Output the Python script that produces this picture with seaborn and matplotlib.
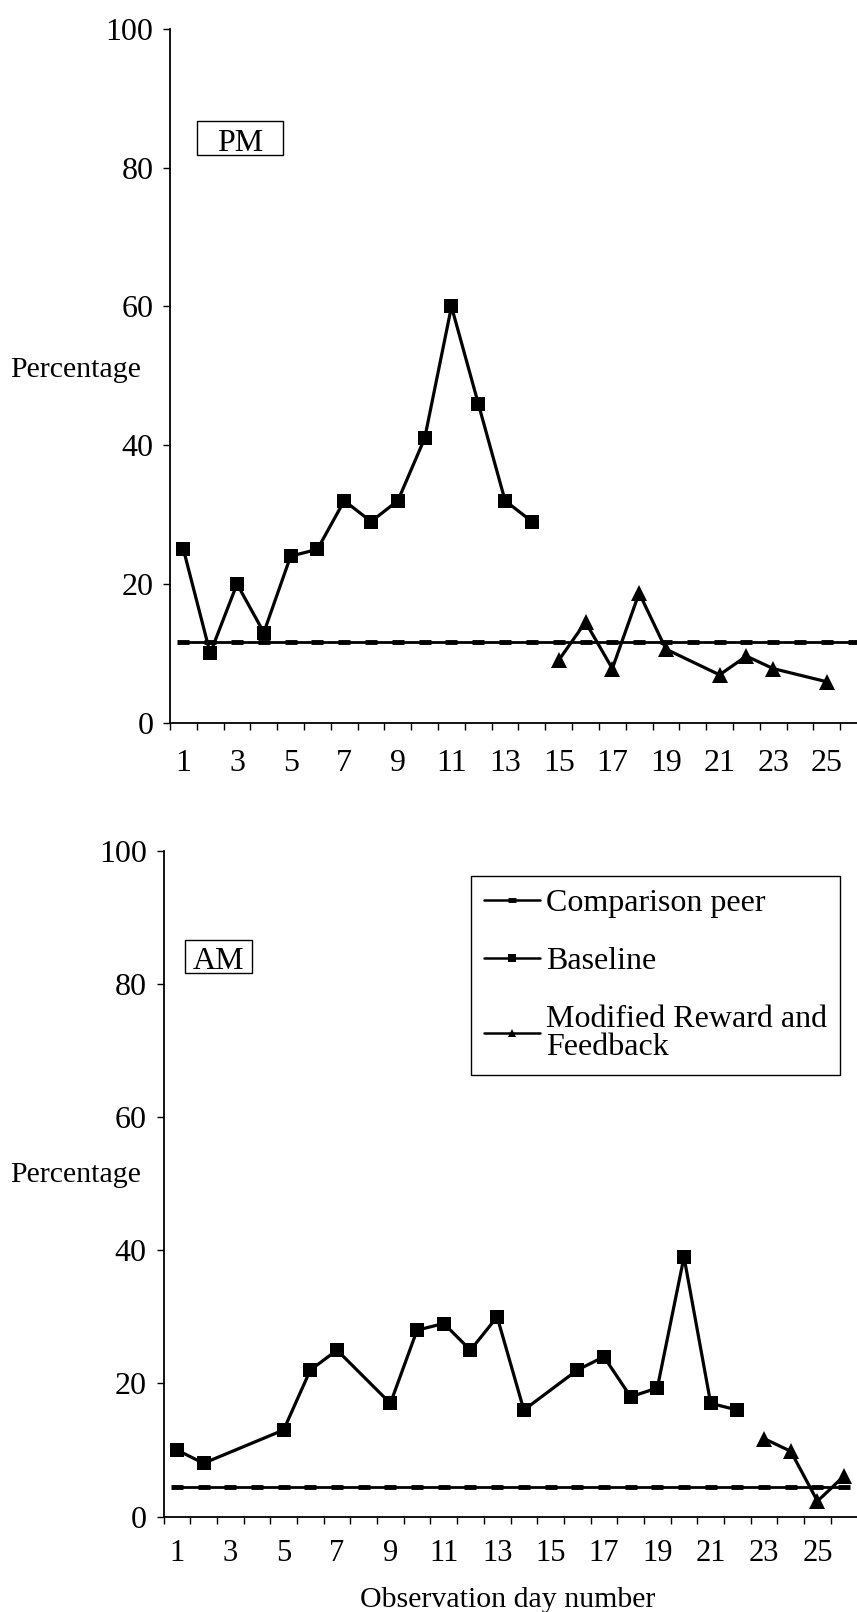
import matplotlib
matplotlib.use("Agg")
import matplotlib.pyplot as plt
from matplotlib.patches import Rectangle
import seaborn as sns
import numpy as np

# ---- data ----
days_all = list(range(1, 27))
tick_days = list(range(1, 26, 2))

# PM panel
pm_base_days = [1, 2, 3, 4, 5, 6, 7, 8, 9, 10, 11, 12, 13, 14]
pm_base_vals = [25, 10, 20, 13, 24, 25, 32, 29, 32, 41, 60, 46, 32, 29]
pm_mod_days = [15, 16, 17, 18, 19, 21, 22, 23, 25]
pm_mod_vals = [9, 14.5, 7.8, 18.7, 10.6, 6.9, 9.6, 7.8, 5.9]
pm_peer = 11.6

# AM panel
am_base_days = [1, 2, 5, 6, 7, 9, 10, 11, 12, 13, 14, 16, 17, 18, 19, 20, 21, 22]
am_base_vals = [10, 8, 13, 22, 25, 17, 28, 29, 25, 30, 16, 22, 24, 18, 19.3, 39, 17, 16]
am_mod_days = [23, 24, 25, 26]
am_mod_vals = [11.7, 9.8, 2.3, 6.1]
am_peer = 4.4

series_names = ["Comparison peer", "Baseline", "Modified Reward and\nFeedback"]

sns.set_theme(style="ticks")
plt.rcParams['font.family'] = ['Liberation Serif', 'DejaVu Serif']
plt.rcParams['text.color'] = 'black'
plt.rcParams['axes.labelcolor'] = 'black'
plt.rcParams['xtick.color'] = 'black'
plt.rcParams['ytick.color'] = 'black'

fig = plt.figure(figsize=(8.57, 16.12), dpi=100)
ax_pm = fig.add_axes([170 / 857, 1 - 722.7 / 1612, 697 / 857, 693.7 / 1612])
ax_am = fig.add_axes([163.5 / 857, 1 - 1516.5 / 1612, 694 / 857, 665.5 / 1612])

FS = 23


def draw_panel(ax, peer, base_d, base_v, mod_d, mod_v, tag, box, label_xy, pad, xfs):
    sns.lineplot(x=days_all, y=[peer] * len(days_all), ax=ax, color='black',
                 linewidth=2.0, linestyle='-', marker='_', markersize=9,
                 markeredgewidth=3.5, markeredgecolor='black',
                 label=series_names[0])
    sns.lineplot(x=base_d, y=base_v, ax=ax, color='black', linewidth=2.3,
                 linestyle='-', marker='s', markersize=10, markeredgewidth=0,
                 label=series_names[1])
    sns.lineplot(x=mod_d, y=mod_v, ax=ax, color='black', linewidth=2.3,
                 linestyle='-', marker='^', markersize=12, markeredgewidth=0,
                 label=series_names[2])

    ax.set_xlim(0.5, 26.5)
    ax.set_ylim(0, 100)
    ax.set_yticks(np.arange(0, 101, 20))
    ax.set_xticks(tick_days)
    ax.set_xticks(np.arange(0.5, 27, 1), minor=True)
    ax.tick_params(axis='x', which='major', length=0, pad=pad, labelsize=xfs)
    ax.tick_params(axis='x', which='minor', length=5, width=1, direction='out')
    ax.tick_params(axis='y', which='major', length=5, width=1, pad=7, labelsize=FS)
    sns.despine(ax=ax)
    for s in ('left', 'bottom'):
        ax.spines[s].set_color('black')
        ax.spines[s].set_linewidth(1.3)

    ax.set_ylabel("Percentage", rotation=0, fontsize=21.5, ha='left', va='center')
    ax.yaxis.set_label_coords(*label_xy)
    ax.set_xlabel("")

    x0, x1, y0, y1 = box
    ax.add_patch(Rectangle((x0, y0), x1 - x0, y1 - y0, fill=True, fc='white',
                           ec='black', lw=1.0, zorder=3))
    ax.text((x0 + x1) / 2, (y0 + y1) / 2 - 0.3, tag, fontsize=FS, ha='center',
            va='center_baseline', zorder=4)


draw_panel(ax_pm, pm_peer, pm_base_days, pm_base_vals, pm_mod_days, pm_mod_vals,
           "PM", (1.51, 4.72, 81.8, 86.7), (-0.229, 0.508), 19, FS)
draw_panel(ax_am, am_peer, am_base_days, am_base_vals, am_mod_days, am_mod_vals,
           "AM", (1.31, 3.82, 81.7, 86.7), (-0.2205, 0.513), 16, 22)

ax_pm.get_legend().remove()
leg = ax_am.legend(loc='upper left', bbox_to_anchor=(471 / 857, 1 - 876 / 1612),
                   bbox_transform=fig.transFigure, fontsize=FS, frameon=True,
                   fancybox=False, framealpha=1, edgecolor='black',
                   handlelength=1.75, handletextpad=0.2, labelspacing=0.9,
                   borderpad=0.4, borderaxespad=0)
leg.get_frame().set_linewidth(1.0)
for h in leg.get_lines():
    h.set_markersize(6)
    h.set_linewidth(1.8)
for t in leg.get_texts():
    t.set_linespacing(0.95)

ax_am.set_xlabel("Observation day number", fontsize=21.5, va='baseline')
ax_am.xaxis.set_label_coords(0.496, -0.136)

fig.savefig("out.png", dpi=100)
